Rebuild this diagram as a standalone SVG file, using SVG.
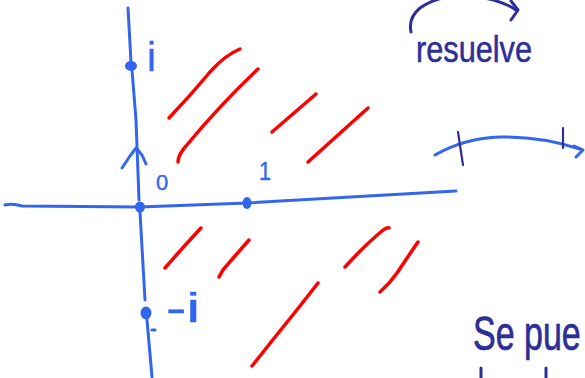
<svg xmlns="http://www.w3.org/2000/svg" width="585" height="378" viewBox="0 0 585 378">
<style>
.ax{fill:none;stroke:#3366ee;stroke-width:3;stroke-linecap:round;stroke-linejoin:round}
.dot{fill:#3366ee}
.red{fill:none;stroke:#ff0000;stroke-width:3.5;stroke-linecap:round;stroke-linejoin:round}
.nv{fill:none;stroke:#2e2e96;stroke-width:3;stroke-linecap:round;stroke-linejoin:round}
.bl{font-family:"Liberation Sans",Arial,sans-serif;fill:#3366ee;stroke:#3366ee;stroke-width:0.4}
.nt{font-family:"Liberation Sans",Arial,sans-serif;fill:#2e2e96;stroke:#2e2e96;stroke-width:0.5}
</style>
<rect width="585" height="378" fill="#ffffff"/>
<g id="connectors">
<path class="ax" d="M128,8 L131,62 M132,70 L136,120 L137,146 L139,200 M140,212 L145,300 M147,320 L152,377"/>
<path class="ax" d="M122,168 L130,156 L136,148 L142,155 L146,164"/>
<path class="ax" d="M5,205 Q12,203 22,206 L140,207 L247,203 L456,191"/>
<path class="ax" d="M152,330 L155,330"/>
<path class="ax" d="M435,155 Q465,138 500,137 Q540,136 580,149"/>
<path class="ax" d="M574,146 L583,150 L576,157"/>
<path class="ax" d="M458,132 L463,165 M563,128 L563,148" style="stroke:#2e2e96;stroke-width:2.2"/>
<path class="nv" d="M411,32 Q408,18 420,8 Q440,-6 470,-4 Q500,-1 516,10"/>
<path class="nv" d="M511,1 L518,10 L511,20"/>
</g>
<g id="node-i">
<ellipse class="dot" cx="131" cy="66" rx="6" ry="5"/>
<text class="bl" x="147" y="71" font-size="40">i</text>
</g>
<g id="node-0">
<ellipse class="dot" cx="140" cy="207" rx="5" ry="5.5"/>
<text class="bl" x="156" y="190" font-size="22">0</text>
</g>
<g id="node-1">
<ellipse class="dot" cx="247" cy="203" rx="4.5" ry="6"/>
<text class="bl" x="259" y="180" font-size="26" textLength="12" lengthAdjust="spacingAndGlyphs">1</text>
</g>
<g id="node-minus-i">
<ellipse class="dot" cx="146" cy="313" rx="5.5" ry="6.5"/>
<text class="bl" x="166" y="322" font-size="40" textLength="34" lengthAdjust="spacingAndGlyphs">-i</text>
</g>
<g id="region">
<path class="red" d="M169,118 Q190,96 210,72 Q225,55 240,49"/>
<path class="red" d="M178,162 Q178,155 186,146 Q220,105 258,69"/>
<path class="red" d="M272,132 L316,94"/>
<path class="red" d="M308,162 L368,108"/>
<path class="red" d="M165,268 Q185,245 201,228"/>
<path class="red" d="M219,277 Q222,270 228,264 L249,240"/>
<path class="red" d="M252,366 Q275,337 300,306 L318,283"/>
<path class="red" d="M345,267 Q365,245 382,231 Q387,227 389,228"/>
<path class="red" d="M380,292 Q390,283 397,273 Q407,258 418,242"/>
</g>
<g id="label-resuelve">
<text class="nt" x="416" y="62" font-size="36" textLength="116" lengthAdjust="spacingAndGlyphs">resuelve</text>
</g>
<g id="label-se-pue">
<text class="nt" transform="translate(473,350) scale(1,1.4)" x="0" y="0" font-size="34">Se pue</text>
<path class="nv" d="M481,368 L481,378 M546,368 L546,378"/>
</g>
</svg>
